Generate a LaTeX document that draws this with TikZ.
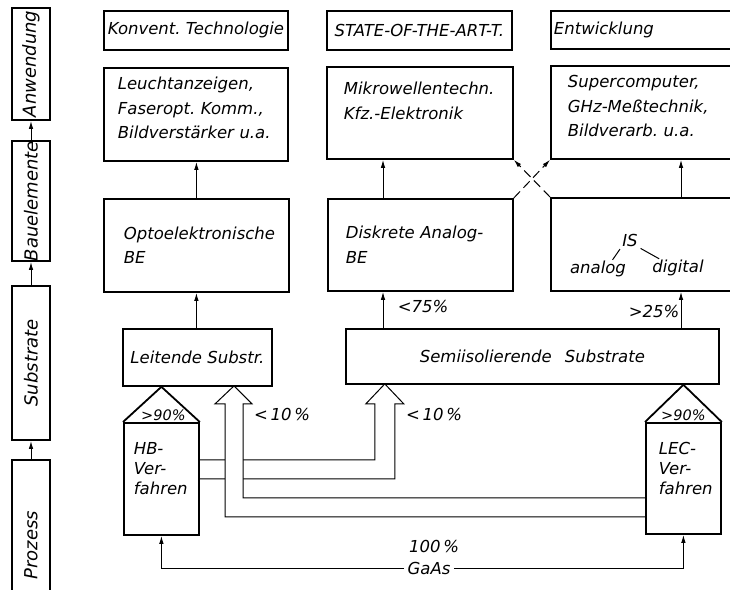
\documentclass[tikz,border=0pt]{standalone}
\usepackage{fontspec}
\setmainfont{DejaVu Sans}
\usepackage{tikz}
\usetikzlibrary{arrows.meta, calc, backgrounds}
\hyphenpenalty=10000
\exhyphenpenalty=10000

\begin{document}
\begin{tikzpicture}[
  x=1pt, y=-1pt,
  every node/.style={font=\fontsize{16.5}{24.5}\selectfont\itshape},
  box/.style={draw, line width=1.8pt, inner sep=0pt, anchor=north west, align=left},
  sidebox/.style={draw, line width=1.8pt, inner sep=0pt, rotate=90, minimum height=38pt, font=\fontsize{18}{22}\selectfont\itshape},
  proc/.style={box, font=\fontsize{16.5}{20}\selectfont\itshape},
  arr/.style={-{Latex[length=8pt,width=4.5pt]}, line width=1pt},
  hollow/.style={draw, fill=white, line width=1pt},
  pct/.style={font=\fontsize{14.5}{16}\selectfont\itshape, inner sep=1pt}
]
  \useasboundingbox (0,0) rectangle (730,589);
  \clip (0,0) rectangle (730,589);

  % Ebenen links
  \node[sidebox, minimum width=112pt] (anw) at (31,64) {Anwendung};
  \node[sidebox, minimum width=120pt] (baue) at (31,201) {Bauelemente};
  \node[sidebox, minimum width=154pt] (subs) at (31,363) {Substrate};
  \node[sidebox, minimum width=170pt] (proz) at (31,545) {Prozess};
  \draw[arr] (proz.east) -- (subs.west);
  \draw[arr] (subs.east) -- (baue.west);
  \draw[arr] (baue.east) -- (anw.west);

  % Anwendung
  \node[box, minimum width=184pt, minimum height=39pt, align=center] (konv) at (103,10) {Konvent.~Technologie};
  \node[box, minimum width=185pt, minimum height=39pt, align=center] (state) at (326,10) {STATE-OF-THE-ART-T.};
  \node[box, minimum width=190pt, minimum height=38pt, text width=184pt] (entw) at (550,10) {Entwicklung};
  \node[box, minimum width=184pt, minimum height=93pt, text width=156pt] (leucht) at (103,67) {Leuchtanzeigen,\\Faseropt.~Komm.,\\Bildverstärker~u.a.\\[-12pt]\mbox{}};
  \node[box, minimum width=186pt, minimum height=92pt, text width=152pt] (mikro) at (326,66) {Mikrowellentechn.\\Kfz.-Elektronik\\\mbox{}};
  \node[box, minimum width=190pt, minimum height=93pt, text width=156pt] (super) at (550,65) {Supercomputer,\\GHz-Meßtechnik,\\Bildverarb.~u.a.\\[-12pt]\mbox{}};

  % Bauelemente
  \node[box, minimum width=185pt, minimum height=93pt, text width=145pt] (opto) at (103,198) {Optoelektronische\\BE};
  \node[box, minimum width=185pt, minimum height=92pt, text width=149pt] (diskr) at (327,198) {Diskrete~Analog-\\BE};
  \node[box, minimum width=190pt, minimum height=93pt] (is) at (550,197) {};
  \node[inner sep=1pt] (istxt) at (630,240) {IS};
  \node[inner sep=1pt] (analog) at (598,269) {analog};
  \node[inner sep=1pt] (digital) at (678,268) {digital};
  \draw[line width=1pt, shorten <=2pt] (istxt.south west) -- ($(analog.north)!0.5!(analog.north east)$);
  \draw[line width=1pt, shorten <=2pt] (istxt.south east) -- ($(digital.north west)!0.3!(digital.north)$);

  % Substrate
  \node[box, minimum width=149pt, minimum height=57pt, align=center] (leit) at (122,328) {Leitende~Substr.};
  \node[box, minimum width=373pt, minimum height=55pt, align=center] (semi) at (345,328) {Semiisolierende\hspace{0.8em}Substrate};

  % Prozess
  \node[proc, minimum width=75pt, minimum height=112pt, text width=55pt] (hb) at (123,422) {HB-\\Ver-\\fahren\\\mbox{}};
  \node[proc, minimum width=75pt, minimum height=111pt, text width=49pt] (lec) at (645,422) {LEC-\\Ver-\\fahren\\\mbox{}};
  \draw[line width=1.8pt] (hb.north west) -- (hb.north |- leit.south) -- (hb.north east);
  \draw[line width=1.8pt] (lec.north west) -- (lec.north |- semi.south) -- (lec.north east);
  \node[pct, anchor=south] (hbp) at ([xshift=2pt]hb.north) {>90\%};
  \node[pct, anchor=south] (lecp) at (lec.north) {>90\%};

  \coordinate (xa) at (383,0);
  \coordinate (xb) at (681,0);
  \draw[arr] (opto.south |- leit.north) -- (opto.south);
  \draw[arr] (opto.north) -- (opto.north |- leucht.south);
  \draw[arr] (semi.north -| xa) -- (diskr.south -| xa);
  \draw[arr] (diskr.north -| xa) -- (mikro.south -| xa);
  \draw[arr] (semi.north -| xb) -- (is.south -| xb);
  \draw[arr] (is.north -| xb) -- (super.south -| xb);
  \draw[arr, dash pattern=on 9pt off 5pt] (diskr.north east) -- (super.south west);
  \draw[arr, dash pattern=on 9pt off 5pt] (is.north west) -- (mikro.south east);

  \node (p75) at (423,306) {<75\%};
  \node (p25) at (654,311) {>25\%};
  \node (p10a) at (282,414) {<\,10\,\%};
  \node (p10b) at (434,414) {<\,10\,\%};

  \begin{scope}[on background layer]
    \draw[hollow] ([yshift=19pt]hb.east) -- ++(175,0) -- ++(0,-56) -- ++(-9,0) -- ++(19,-20)
      -- ++(19,20) -- ++(-9,0) -- ++(0,75) -- (hb.east);
    \draw[hollow] ([yshift=-19.5pt]lec.west) -- ++(-402,0) -- ++(0,-94) -- ++(9,0) -- ++(-18,-18)
      -- ++(-19,18) -- ++(10,0) -- ++(0,113) -- ([yshift=-38.5pt]lec.west);
  \end{scope}

  \node (gaas) at (429,568) {GaAs};
  \node (hundert) at (434,546) {100\,\%};
  \draw[arr] (gaas.west) -| (hb.south);
  \draw[arr] (gaas.east) -| (lec.south);
\end{tikzpicture}
\end{document}
